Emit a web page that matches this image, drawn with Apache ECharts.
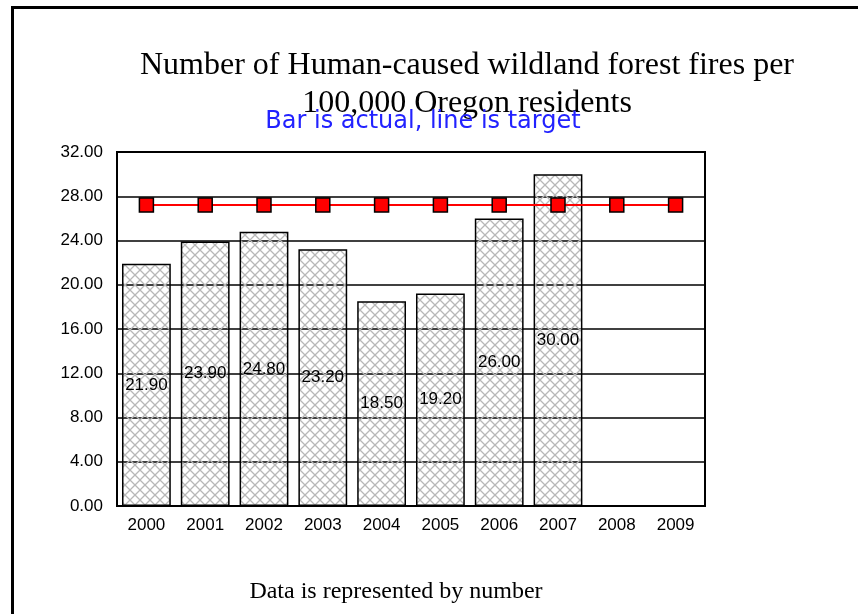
<!DOCTYPE html>
<html>
<head>
<meta charset="utf-8">
<script src="https://cdn.jsdelivr.net/npm/echarts@6/dist/echarts.min.js"></script>
<style>
html,body{margin:0;padding:0;background:#fff;}
#chart{width:858px;height:614px;}
</style>
</head>
<body>
<div id="chart"></div>
<script>
const years = ['2000','2001','2002','2003','2004','2005','2006','2007','2008','2009'];
const actual = [21.9, 23.9, 24.8, 23.2, 18.5, 19.2, 26.0, 30.0, null, null];
const target = [27.2, 27.2, 27.2, 27.2, 27.2, 27.2, 27.2, 27.2, 27.2, 27.2];
const titleText = 'Number of Human-caused wildland forest fires per\n100,000 Oregon residents';
const subtitleText = 'Bar is actual, line is target';
const footerText = 'Data is represented by number';

function hatch() {
  const s = 10;
  const c = document.createElement('canvas');
  c.width = s; c.height = s;
  const g = c.getContext('2d');
  g.strokeStyle = '#b8b8b8';
  g.lineWidth = 1.3;
  g.beginPath();
  g.moveTo(0, 0); g.lineTo(s, s);
  g.moveTo(s, 0); g.lineTo(0, s);
  g.stroke();
  return c;
}

const chart = echarts.init(document.getElementById('chart'));
chart.setOption({
  backgroundColor: '#fff',
  animation: false,
  title: [
    { text: titleText, left: 462, top: 42, textAlign: 'center',
      textStyle: { fontFamily: 'Liberation Serif', fontSize: 32, fontWeight: 'normal', color: '#000', lineHeight: 38 } },
    { text: subtitleText, left: 418, top: 105, textAlign: 'center',
      textStyle: { fontFamily: 'DejaVu Sans', fontSize: 24, fontWeight: 'normal', color: '#2222ff' } },
    { text: footerText, left: 391, top: 575, textAlign: 'center',
      textStyle: { fontFamily: 'Liberation Serif', fontSize: 24, fontWeight: 'normal', color: '#000' } }
  ],
  graphic: [
    { type: 'rect', shape: { x: 11, y: 6, width: 3, height: 620 }, style: { fill: '#000' } },
    { type: 'rect', shape: { x: 11, y: 6, width: 860, height: 3 }, style: { fill: '#000' } }
  ],
  grid: { left: 117, top: 152, right: 153, bottom: 108, show: true, borderColor: '#000', borderWidth: 2, backgroundColor: 'transparent' },
  xAxis: {
    type: 'category', data: years,
    axisLine: { show: true, lineStyle: { color: '#000', width: 2 } },
    axisTick: { show: false },
    axisLabel: { color: '#000', fontFamily: 'Liberation Sans', fontSize: 17, margin: 11 }
  },
  yAxis: {
    type: 'value', min: 0, max: 32, interval: 4,
    axisLine: { show: true, lineStyle: { color: '#000', width: 2 } },
    axisTick: { show: false },
    axisLabel: { color: '#000', fontFamily: 'Liberation Sans', fontSize: 17, margin: 14,
      formatter: v => v.toFixed(2) },
    splitLine: { show: true, lineStyle: { color: '#000', width: 1.5 } }
  },
  series: [
    {
      type: 'bar', data: actual, barCategoryGap: '17%',
      itemStyle: { color: { image: hatch(), repeat: 'repeat' }, borderColor: '#000', borderWidth: 1.5 },
      label: { show: true, position: 'inside', color: '#000', fontFamily: 'Liberation Sans', fontSize: 17,
        formatter: p => p.value.toFixed(2) },
      z: 2
    },
    {
      type: 'line', data: target, symbol: 'rect', symbolSize: 14,
      lineStyle: { color: '#ff0000', width: 2 },
      itemStyle: { color: '#ff0000', borderColor: '#000', borderWidth: 1.5 },
      z: 3
    }
  ]
});
</script>
</body>
</html>
